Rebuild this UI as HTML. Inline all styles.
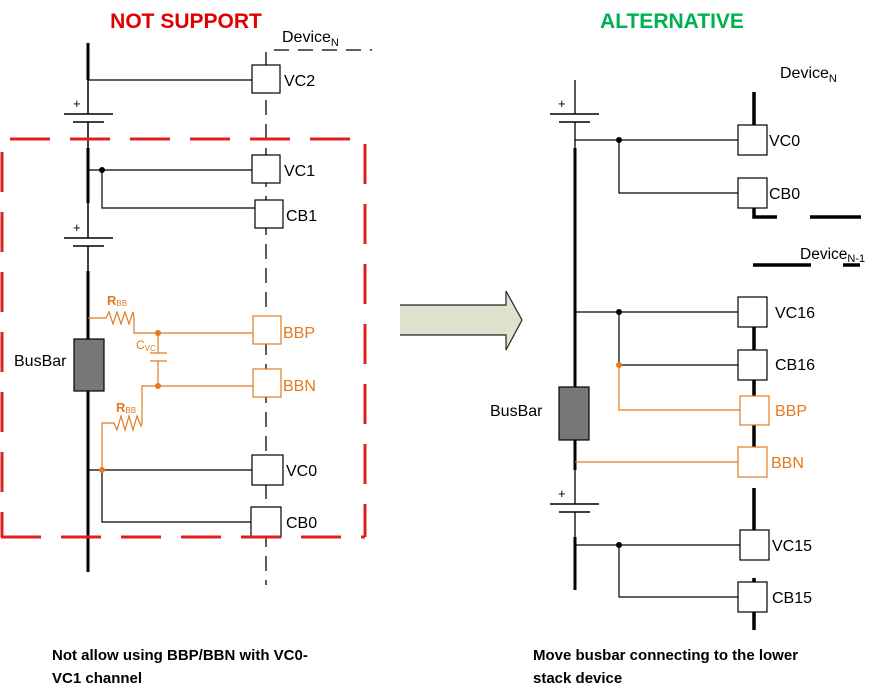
<!DOCTYPE html>
<html><head><meta charset="utf-8"><style>
html,body{margin:0;padding:0;background:#fff;}
svg{display:block;font-family:"Liberation Sans",sans-serif;}
</style></head><body>
<svg width="872" height="689" viewBox="0 0 872 689" xmlns="http://www.w3.org/2000/svg">
<text x="186" y="28" font-size="21" font-weight="bold" fill="#e00000" text-anchor="middle">NOT SUPPORT</text>
<text x="672" y="28" font-size="21" font-weight="bold" fill="#00b050" text-anchor="middle">ALTERNATIVE</text>

<g stroke="#000" fill="none">
<line x1="88" y1="43" x2="88" y2="80" stroke-width="3"/>
<line x1="88" y1="80" x2="88" y2="114" stroke-width="1.5"/>
<line x1="64" y1="114" x2="113" y2="114" stroke-width="1.5"/>
<line x1="73" y1="122" x2="104" y2="122" stroke-width="1.5"/>
<line x1="88" y1="122" x2="88" y2="148" stroke-width="1.5"/>
<line x1="88" y1="148" x2="88" y2="203" stroke-width="3"/>
<line x1="88" y1="203" x2="88" y2="238" stroke-width="1.5"/>
<line x1="64" y1="238" x2="113" y2="238" stroke-width="1.5"/>
<line x1="73" y1="246" x2="104" y2="246" stroke-width="1.5"/>
<line x1="88" y1="246" x2="88" y2="271" stroke-width="1.5"/>
<line x1="88" y1="271" x2="88" y2="572" stroke-width="3"/>
<line x1="266" y1="52" x2="266" y2="585" stroke-width="1.3" stroke-dasharray="15,9"/>
<line x1="274" y1="50" x2="372" y2="50" stroke-width="1.3" stroke-dasharray="15,9"/>
<line x1="88" y1="80" x2="252" y2="80" stroke-width="1.2"/>
<line x1="88" y1="170" x2="252" y2="170" stroke-width="1.2"/>
<polyline points="102,170 102,208 255,208" stroke-width="1.2"/>
<line x1="88" y1="470" x2="252" y2="470" stroke-width="1.2"/>
<polyline points="102,470 102,522 251,522" stroke-width="1.2"/>
</g>
<rect x="74" y="339" width="30" height="52" fill="#777" stroke="#000" stroke-width="1.2"/>
<g fill="#fff" stroke="#000" stroke-width="1.2">
<rect x="252" y="65" width="28" height="28"/>
<rect x="252" y="155" width="28" height="28"/>
<rect x="255" y="200" width="28" height="28"/>
<rect x="252" y="455" width="31" height="30"/>
<rect x="251" y="507" width="30" height="30"/>
</g>
<g stroke="#e07b20" fill="none" stroke-width="1.2">
<polyline points="88,318 106,318 109,312 113,324 117,312 121,324 125,312 129,324 133,312 134,318 134,333 253,333"/>
<line x1="158" y1="333" x2="158" y2="353"/>
<line x1="150" y1="353" x2="167" y2="353"/>
<line x1="150" y1="361" x2="167" y2="361"/>
<line x1="158" y1="361" x2="158" y2="386"/>
<polyline points="253,386 142,386 142,423 141,426 137,416 133,430 129,416 125,430 121,416 117,430 114,423 102,423 102,470"/>
<rect x="253" y="316" width="28" height="28" fill="#fff"/>
<rect x="253" y="369" width="28" height="28" fill="#fff"/>
</g>
<g fill="#e07b20">
<circle cx="158" cy="333" r="3"/><circle cx="158" cy="386" r="3"/><circle cx="102" cy="470" r="3"/>
</g>
<circle cx="102" cy="170" r="3"/>
<g stroke="#e02020" stroke-width="3" fill="none" stroke-dasharray="40,20">
<line x1="10" y1="139" x2="350" y2="139"/>
<line x1="365" y1="144" x2="365" y2="537"/>
<line x1="1" y1="537" x2="365" y2="537"/>
<line x1="2" y1="152" x2="2" y2="537"/>
</g>
<g font-size="16" fill="#000">
<text x="73" y="108" font-size="13">+</text>
<text x="73" y="232" font-size="13">+</text>
<text x="282" y="42">Device<tspan font-size="11" dy="4">N</tspan></text>
<text x="284" y="86">VC2</text>
<text x="284" y="176">VC1</text>
<text x="286" y="221">CB1</text>
<text x="286" y="476">VC0</text>
<text x="286" y="528">CB0</text>
<text x="14" y="366">BusBar</text>
</g>
<g fill="#e07b20">
<text x="283" y="338" font-size="16">BBP</text>
<text x="283" y="391" font-size="16">BBN</text>
<text x="107" y="305" font-size="13" font-weight="bold">R<tspan font-size="8" dy="1" font-weight="normal">BB</tspan></text>
<text x="116" y="412" font-size="13" font-weight="bold">R<tspan font-size="8" dy="1" font-weight="normal">BB</tspan></text>
<text x="136" y="349" font-size="12">C<tspan font-size="8" dy="2">VC</tspan></text>
</g>

<polygon points="400,305 506,305 506,291 522,320 506,350 506,335 400,335" fill="#dde3cc" stroke="none"/>
<polyline points="400,305 506,305 506,291 522,320 506,350 506,335 400,335" fill="none" stroke="#222" stroke-width="1.2"/>

<g stroke="#000" fill="none">
<line x1="575" y1="80" x2="575" y2="114" stroke-width="1.3"/>
<line x1="550" y1="114" x2="599" y2="114" stroke-width="1.5"/>
<line x1="559" y1="122" x2="590" y2="122" stroke-width="1.5"/>
<line x1="575" y1="122" x2="575" y2="148" stroke-width="1.3"/>
<line x1="575" y1="148" x2="575" y2="470" stroke-width="3"/>
<line x1="575" y1="470" x2="575" y2="504" stroke-width="1.3"/>
<line x1="550" y1="504" x2="599" y2="504" stroke-width="1.5"/>
<line x1="559" y1="512" x2="590" y2="512" stroke-width="1.5"/>
<line x1="575" y1="512" x2="575" y2="537" stroke-width="1.3"/>
<line x1="575" y1="537" x2="575" y2="590" stroke-width="3"/>
<g stroke-width="3.5">
<line x1="754" y1="92" x2="754" y2="125"/>
<polyline points="754,208 754,217 777,217"/>
<line x1="810" y1="217" x2="861" y2="217"/>
<line x1="753" y1="265" x2="811" y2="265"/>
<line x1="843" y1="265" x2="860" y2="265"/>
<line x1="754" y1="327" x2="754" y2="350"/>
<line x1="754" y1="380" x2="754" y2="396"/>
<line x1="754" y1="425" x2="754" y2="447"/>
<line x1="754" y1="488" x2="754" y2="530"/>
<line x1="754" y1="578" x2="754" y2="582"/>
<line x1="754" y1="612" x2="754" y2="630"/>
</g>
<line x1="575" y1="140" x2="738" y2="140" stroke-width="1.2"/>
<polyline points="619,140 619,193 738,193" stroke-width="1.2"/>
<line x1="575" y1="312" x2="738" y2="312" stroke-width="1.2"/>
<polyline points="619,312 619,365 738,365" stroke-width="1.2"/>
<line x1="575" y1="545" x2="740" y2="545" stroke-width="1.2"/>
<polyline points="619,545 619,597 738,597" stroke-width="1.2"/>
</g>
<rect x="559" y="387" width="30" height="53" fill="#777" stroke="#000" stroke-width="1.2"/>
<g stroke="#e07b20" fill="none" stroke-width="1.2">
<polyline points="619,365 619,410 740,410"/>
<line x1="575" y1="462" x2="738" y2="462"/>
<rect x="740" y="396" width="29" height="29" fill="#fff"/>
<rect x="738" y="447" width="29" height="30" fill="#fff"/>
</g>
<circle cx="619" cy="365" r="3" fill="#e07b20"/>
<g fill="#000"><circle cx="619" cy="140" r="3"/><circle cx="619" cy="312" r="3"/><circle cx="619" cy="545" r="3"/></g>
<g fill="#fff" stroke="#000" stroke-width="1.2">
<rect x="738" y="125" width="29" height="30"/>
<rect x="738" y="178" width="29" height="30"/>
<rect x="738" y="297" width="29" height="30"/>
<rect x="738" y="350" width="29" height="30"/>
<rect x="740" y="530" width="29" height="30"/>
<rect x="738" y="582" width="29" height="30"/>
</g>
<g font-size="16" fill="#000">
<text x="558" y="108" font-size="13">+</text>
<text x="558" y="498" font-size="13">+</text>
<text x="780" y="78">Device<tspan font-size="11" dy="4">N</tspan></text>
<text x="800" y="259" font-size="15.5">Device<tspan font-size="11" dy="3">N-1</tspan></text>
<text x="769" y="146">VC0</text>
<text x="769" y="199">CB0</text>
<text x="775" y="318">VC16</text>
<text x="775" y="370">CB16</text>
<text x="772" y="551">VC15</text>
<text x="772" y="603">CB15</text>
<text x="490" y="416">BusBar</text>
</g>
<g fill="#e07b20" font-size="16">
<text x="775" y="416">BBP</text>
<text x="771" y="468">BBN</text>
</g>

<g font-size="15" font-weight="bold" fill="#000">
<text x="52" y="660">Not allow using BBP/BBN with VC0-</text>
<text x="52" y="683">VC1 channel</text>
<text x="533" y="660">Move busbar connecting to the lower</text>
<text x="533" y="683">stack device</text>
</g>
</svg>
</body></html>
